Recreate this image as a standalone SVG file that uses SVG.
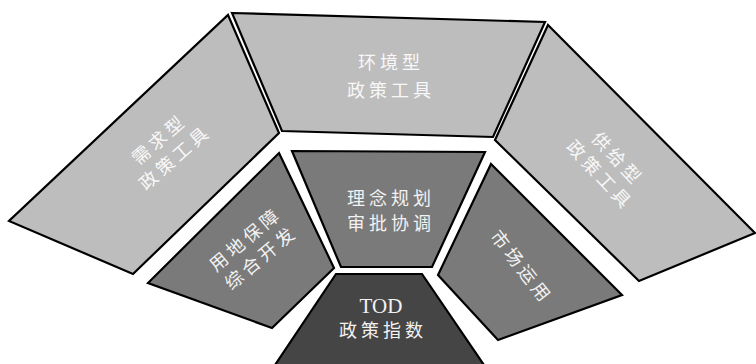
<svg xmlns="http://www.w3.org/2000/svg" width="756" height="364" viewBox="0 0 756 364">
<style>
.outer{fill:#bdbdbd;stroke:#000;stroke-width:2.2;stroke-linejoin:miter}
.mid{fill:#7a7a7a;stroke:#000;stroke-width:2.2}
.core{fill:#454545;stroke:#000;stroke-width:2.2}
.t{font-family:"Liberation Serif","Noto Sans CJK SC",serif;font-size:18px;fill:#f2f2f2;text-anchor:middle;letter-spacing:4px}
.tl{fill:#f8f8f8}
</style>
<rect width="756" height="364" fill="#fff"/>
<g id="demand">
<polygon class="outer" points="228,15 279,133 133,274 9,221"/>
<g transform="translate(166,150) rotate(-41)">
<text class="t tl" x="2" y="-6">需求型</text>
<text class="t tl" x="2" y="18">政策工具</text>
</g>
</g>
<g id="environment">
<polygon class="outer" points="232,13 545,22 493,137 282,131"/>
<text class="t tl" x="391" y="69">环境型</text>
<text class="t tl" x="391" y="97">政策工具</text>
</g>
<g id="supply">
<polygon class="outer" points="548,25 755,233 639,281 495,140"/>
<g transform="translate(607,166) rotate(47)">
<text class="t tl" x="2" y="-6">供给型</text>
<text class="t tl" x="2" y="18">政策工具</text>
</g>
</g>
<g id="land">
<polygon class="mid" points="279,153 334,268 272,328 148,283"/>
<g transform="translate(252,250) rotate(-40)">
<text class="t" x="2" y="-6">用地保障</text>
<text class="t" x="2" y="18">综合开发</text>
</g>
</g>
<g id="planning">
<polygon class="mid" points="292,151 485,152 432,267 341,267"/>
<text class="t" x="391" y="205">理念规划</text>
<text class="t" x="391" y="230">审批协调</text>
</g>
<g id="market">
<polygon class="mid" points="491,164 622,295 498,340 438,275"/>
<g transform="translate(520,266) rotate(52)">
<text class="t" x="2" y="6">市场运用</text>
</g>
</g>
<g id="tod">
<polygon class="core" points="336,274 422,274 484,365 275,365"/>
<text class="t" x="381" y="313" style="letter-spacing:0;font-size:21px">TOD</text>
<text class="t" x="383" y="337">政策指数</text>
</g>
<g id="connectors"></g>
</svg>
